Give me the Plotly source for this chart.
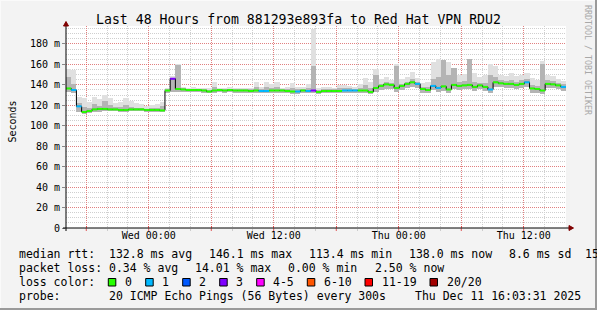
import numpy as np
import pandas as pd
import plotly.graph_objects as go

W, H = 597, 310
END = pd.Timestamp("2025-12-11 16:03:31")
START = END - pd.Timedelta(hours=48)
STEP = pd.Timedelta(minutes=30)

# ---------------- data (ms), one value per 30 minutes ----------------
median_ms = [136.5, 135, 119, 113.5, 114.5, 116, 116.5, 116.5, 116, 116,
             115.5, 115.5, 116, 116, 116, 115.5, 115.5, 115.5, 115, 134.5,
             146, 136, 135.5, 135, 135, 135, 134.5, 133.5, 134.5, 135,
             134.5, 135, 134.5, 134.5, 134.5, 134, 134.5, 134, 134, 134.5,
             134.5, 134.5, 134, 133.5, 133.5, 134.5, 134, 134.5, 133, 134,
             134, 134, 134, 134.5, 134.5, 134.5, 134.5, 134.5, 133, 137,
             139, 140.5, 140, 137, 139, 141, 142.5, 141, 136, 135,
             139, 137, 138.5, 135.5, 140, 139, 139.5, 140, 138, 139.5,
             138, 135.5, 142.5, 141.5, 141, 141, 140, 141, 142.5, 136.5,
             136, 134.5, 141, 140.5, 139.5, 138]

loss_cnt = [0, 1, 1, 0, 0, 0, 0, 0, 0, 0,
            0, 0, 0, 0, 0, 0, 0, 0, 0, 0,
            3, 0, 0, 0, 0, 0, 0, 0, 0, 0,
            0, 0, 0, 0, 0, 0, 0, 1, 1, 0,
            0, 0, 0, 0, 1, 0, 1, 3, 0, 0,
            0, 0, 0, 1, 1, 1, 0, 0, 0, 0,
            0, 0, 0, 0, 0, 0, 0, 1, 0, 0,
            1, 1, 0, 0, 0, 0, 0, 0, 0, 0,
            0, 1, 0, 0, 0, 0, 0, 0, 1, 0,
            0, 0, 0, 0, 0, 1]

smoke_lo = [133, 132, 113, 112, 112.5, 113, 113.5, 114, 114, 114,
            113.5, 113.5, 114, 114, 114, 113.5, 113.5, 113.5, 113, 132.5,
            133, 133, 133, 133, 133, 133, 132.5, 132, 132.5, 133,
            132.5, 133, 132.5, 132.5, 132.5, 132, 132.5, 132, 132, 132.5,
            132.5, 132.5, 132, 131.5, 131.5, 132.5, 132, 132.5, 131.5, 132,
            132, 132, 132, 132.5, 132.5, 132.5, 132.5, 132.5, 131, 133,
            135, 136, 136, 133, 135, 136.5, 138, 137, 132.5, 132,
            135, 133.5, 134.5, 132, 136, 135, 135.5, 136, 134, 135.5,
            134, 132, 138, 137.5, 137, 137, 136, 137, 138, 132.5,
            132, 131.5, 137, 136.5, 135.5, 134.5]

smoke_hi = [156, 155, 128, 127, 123, 128, 126, 130, 127, 122,
            123, 127, 124, 122, 121, 119, 120, 121, 123, 137,
            149, 160, 138, 137, 137.5, 137, 137, 136.5, 143, 137,
            137, 137.5, 137, 137, 137, 137, 143, 138, 143, 141,
            143, 137, 137.5, 142, 138, 137.5, 141, 195, 137, 138,
            137.5, 137, 140, 140, 139, 138, 141, 147, 143, 156,
            146, 148, 145, 160, 146, 148, 153, 147, 142, 143,
            162, 165, 164, 162, 157, 150, 151, 164, 152, 148,
            150, 160, 158, 150, 149, 152, 149, 150, 152, 147,
            145, 163, 150, 149, 146, 144]

smoke_mid = [148, 141, 122, 118, 117, 121, 119, 124, 120, 118,
             118, 120, 118, 117.5, 117, 116.5, 117, 117, 119, 136,
             147, 159, 136.5, 136, 136, 136, 136, 135, 138, 136,
             136, 136, 136, 136, 135.5, 135.5, 138, 136, 138, 137,
             138, 136, 136, 137, 136, 136, 137, 158, 135, 136,
             136, 136, 137, 137, 136.5, 136, 137, 140, 137, 150,
             141, 143, 142, 158, 141, 143, 146, 143, 138, 138,
             146, 148, 164, 150, 157, 143, 144, 165, 143, 142,
             142, 150, 148, 145, 144, 145, 143, 145, 146, 140,
             139, 160, 145, 144, 142, 141]

y_tick_vals = [0, 20, 40, 60, 80, 100, 120, 140, 160, 180]
y_tick_text = ["0", "20 m", "40 m", "60 m", "80 m", "100 m", "120 m", "140 m", "160 m", "180 m"]
x_tick_vals = ["2025-12-09 18:00", "2025-12-10 00:00", "2025-12-10 06:00", "2025-12-10 12:00",
               "2025-12-10 18:00", "2025-12-11 00:00", "2025-12-11 06:00", "2025-12-11 12:00"]
x_tick_text = ["", "Wed 00:00", "", "Wed 12:00", "", "Thu 00:00", "", "Thu 12:00"]

loss_classes = [("0", 0, 0, "#26ff00"), ("1", 1, 1, "#00b8ff"), ("2", 2, 2, "#0059ff"),
                ("3", 3, 3, "#7e00ff"), ("4-5", 4, 5, "#ff00ff"), ("6-10", 6, 10, "#ff5500"),
                ("11-19", 11, 19, "#ff0000"), ("20/20", 20, 20, "#a10000")]

title_text = "Last 48 Hours from 881293e893fa to Red Hat VPN RDU2"
rtt_label = "median rtt:"
rtt_items = ["132.8 ms avg", "146.1 ms max", "113.4 ms min", "138.0 ms now", "8.6 ms sd", "15"]
loss_label = "packet loss:"
loss_items = ["0.34 % avg", "14.01 % max", "0.00 % min", "2.50 % now"]
probe_text = "20 ICMP Echo Pings (56 Bytes) every 300s"
date_text = "Thu Dec 11 16:03:31 2025"

# ---------------- geometry helpers ----------------
ML, MR, MT, MB = 66, 31, 26, 82
PW, PH = W - ML - MR, H - MT - MB
def PX(px):
    return (px - ML) / PW
def PY(py):
    return (H - MB - py) / PH

MONO = "DejaVu Sans Mono"

n = len(median_ms)
t_start = [START + STEP * i for i in range(n)]
t_mid = [t + STEP / 2 for t in t_start]
t_end = [t + STEP for t in t_start]

lo = np.array(smoke_lo)
hi = np.array(smoke_hi)
mid = np.array(smoke_mid)
bar_w = STEP.total_seconds() * 1000

fig = go.Figure()
fig.add_trace(go.Bar(x=t_mid, y=hi - lo, base=lo, width=bar_w,
                     marker=dict(color="#e0e0e0", line=dict(width=0)), hoverinfo="skip"))
fig.add_trace(go.Bar(x=t_mid, y=mid - lo, base=lo, width=bar_w,
                     marker=dict(color="#b4b4b4", line=dict(width=0)), hoverinfo="skip"))

# black step median
fig.add_trace(go.Scatter(x=t_start + [END], y=median_ms + [median_ms[-1]], mode="lines",
                         line=dict(color="#000000", width=1, shape="hv"), hoverinfo="skip"))

# colored horizontal segments by loss class
for name, a, b, col in loss_classes:
    xs, ys = [], []
    for i in range(n):
        if a <= loss_cnt[i] <= b:
            xs += [t_start[i], t_end[i], None]
            ys += [median_ms[i], median_ms[i], None]
    if xs:
        fig.add_trace(go.Scatter(x=xs, y=ys, mode="lines", line=dict(color=col, width=2),
                                 hoverinfo="skip", connectgaps=False))

grid_minor = "#cfcfcf"
grid_major = "rgba(255,0,0,0.38)"

fig.update_layout(
    width=W, height=H,
    margin=dict(l=ML, r=MR, t=MT, b=MB, pad=0),
    paper_bgcolor="#f3f3f3", plot_bgcolor="#ffffff",
    showlegend=False, barmode="overlay", bargap=0,
    font=dict(family=MONO, size=10, color="#000000"),
    xaxis=dict(type="date", range=[START, END], tickmode="array",
               tickvals=x_tick_vals, ticktext=x_tick_text,
               showgrid=True, gridcolor=grid_major, griddash="1px,1px", gridwidth=1,
               ticks="inside", ticklen=2, tickcolor="rgba(255,0,0,0.5)",
               minor=dict(dtick=7200000, tick0="2025-12-09 18:00", showgrid=True,
                          gridcolor=grid_minor, griddash="1px,1px", ticks="outside",
                          ticklen=2, tickcolor="#cccccc"),
               showline=False, zeroline=False, automargin=False,
               tickfont=dict(family=MONO, size=10, color="#000000")),
    yaxis=dict(range=[0, PH / 1.0223], tickmode="array", tickvals=y_tick_vals,
               ticktext=y_tick_text, showgrid=True, gridcolor=grid_major,
               griddash="1px,1px", ticks="outside", ticklen=3, tickcolor="#888888",
               minor=dict(dtick=5, showgrid=True, gridcolor=grid_minor, griddash="1px,1px"),
               showline=False, zeroline=False, automargin=False,
               tickfont=dict(family=MONO, size=10, color="#000000")),
)

shapes = []
# red major tick marks below the time axis
for tv in x_tick_vals:
    shapes.append(dict(type="line", xref="x", yref="paper", x0=tv, x1=tv,
                       y0=PY(228), y1=PY(231), line=dict(color="rgba(255,0,0,0.55)", width=1)))
# axis lines with arrows
shapes.append(dict(type="line", xref="paper", yref="paper", x0=PX(63), x1=PX(570),
                   y0=0, y1=0, line=dict(color="#000000", width=1)))
shapes.append(dict(type="line", xref="paper", yref="paper", x0=0, x1=0,
                   y0=PY(231), y1=PY(25), line=dict(color="#000000", width=1)))
shapes.append(dict(type="path", xref="paper", yref="paper",
                   path=f"M {PX(569)} {PY(225.5)} L {PX(573.5)} {PY(228)} L {PX(569)} {PY(230.5)} Z",
                   fillcolor="#800000", line=dict(color="#800000", width=1)))
shapes.append(dict(type="path", xref="paper", yref="paper",
                   path=f"M {PX(63.5)} {PY(26)} L {PX(66)} {PY(21.5)} L {PX(68.5)} {PY(26)} Z",
                   fillcolor="#800000", line=dict(color="#800000", width=1)))
# outer frame shading
shapes.append(dict(type="line", xref="paper", yref="paper", x0=PX(0), x1=PX(597),
                   y0=PY(0.5), y1=PY(0.5), line=dict(color="#fafafa", width=1)))
shapes.append(dict(type="line", xref="paper", yref="paper", x0=PX(0.5), x1=PX(0.5),
                   y0=PY(0), y1=PY(310), line=dict(color="#fafafa", width=1)))
shapes.append(dict(type="line", xref="paper", yref="paper", x0=PX(596), x1=PX(596),
                   y0=PY(0), y1=PY(310), line=dict(color="#9a9a9a", width=2)))
shapes.append(dict(type="line", xref="paper", yref="paper", x0=PX(0), x1=PX(597),
                   y0=PY(309), y1=PY(309), line=dict(color="#9a9a9a", width=2)))

annotations = []
def ann(text, px, py, size=11.5, xanchor="left", color="#000000", angle=0):
    annotations.append(dict(text=text, x=PX(px), y=PY(py), xref="paper", yref="paper",
                            xanchor=xanchor, yanchor="middle", showarrow=False,
                            textangle=angle, font=dict(family=MONO, size=size, color=color)))

ann(title_text, 298, 19.5, size=13.2, xanchor="center")
ann("Seconds", 11.5, 122, size=10, xanchor="center", angle=-90)
ann("RRDTOOL / TOBI OETIKER", 588, 60, size=8.3, xanchor="center", color="#a8a8a8", angle=90)

row_y = [254.3, 268.3, 282.3, 296.2]
col_x1 = [107.3, 207.3, 307.3, 407.3, 507.3, 582.5]
col_x2 = [107.3, 192.7, 286.0, 372.7]
ann(rtt_label, 16.7, row_y[0])
for txt, x in zip(rtt_items, col_x1):
    ann(txt, x, row_y[0])
ann(loss_label, 16.7, row_y[1])
for txt, x in zip(loss_items, col_x2):
    ann(txt, x, row_y[1])

ann("loss color:", 16.7, row_y[2])
box_x = [108.3, 145.7, 182.7, 219.7, 256.7, 307.3, 365.0, 430.0]
for (name, a, b, col), bx in zip(loss_classes, box_x):
    shapes.append(dict(type="rect", xref="paper", yref="paper", x0=PX(bx), x1=PX(bx + 7.5),
                       y0=PY(286), y1=PY(278.5), fillcolor=col,
                       line=dict(color="#000000", width=1)))
    ann(name, bx + 14.7, row_y[2])

ann("probe:", 16.7, row_y[3])
ann(probe_text, 107.3, row_y[3])
ann(date_text, 413.3, row_y[3])

fig.update_layout(shapes=shapes, annotations=annotations)
fig.write_html("out.html")
